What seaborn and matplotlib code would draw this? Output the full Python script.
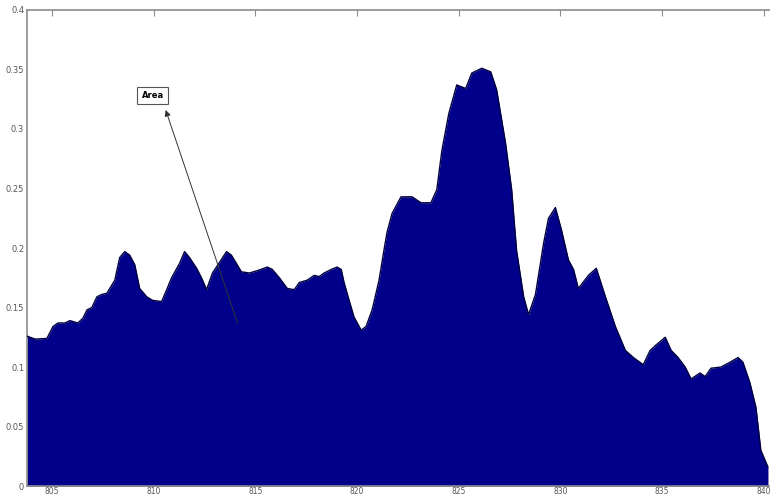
import matplotlib
matplotlib.use("Agg")
import matplotlib.pyplot as plt
import seaborn as sns
import pandas as pd

# Spectrum sampled along the wavelength axis
wavelength = [
    803.77, 804.17, 804.75, 805.05, 805.29, 805.64, 805.88, 806.27, 806.52, 806.72,
    806.96, 807.21, 807.45, 807.70, 807.84, 808.09, 808.33, 808.58, 808.82, 809.07,
    809.31, 809.66, 809.95, 810.39, 810.64, 810.88, 811.27, 811.52, 811.76, 812.11,
    812.35, 812.60, 812.89, 813.24, 813.58, 813.82, 814.07, 814.31, 814.71, 815.10,
    815.59, 815.83, 816.18, 816.57, 816.91, 817.16, 817.55, 817.89, 818.14, 818.38,
    818.73, 819.02, 819.22, 819.36, 819.61, 819.85, 820.20, 820.44, 820.74, 821.08,
    821.32, 821.47, 821.72, 822.16, 822.70, 823.14, 823.63, 823.92, 824.17, 824.51,
    824.90, 825.34, 825.64, 826.13, 826.57, 826.86, 827.30, 827.60, 827.84, 828.19,
    828.43, 828.77, 829.17, 829.41, 829.75, 830.05, 830.39, 830.64, 830.88, 831.37,
    831.76, 832.21, 832.70, 833.19, 833.58, 834.07, 834.41, 834.66, 835.15, 835.44,
    835.78, 836.13, 836.42, 836.86, 837.11, 837.40, 837.89, 838.33, 838.73, 838.97,
    839.31, 839.61, 839.85, 840.20,
]
intensity = [
    0.126, 0.1235, 0.124, 0.134, 0.137, 0.137, 0.139, 0.137, 0.141, 0.148,
    0.150, 0.159, 0.161, 0.162, 0.166, 0.173, 0.192, 0.197, 0.194, 0.186,
    0.166, 0.159, 0.156, 0.155, 0.165, 0.175, 0.187, 0.197, 0.192, 0.183,
    0.175, 0.165, 0.179, 0.188, 0.197, 0.194, 0.187, 0.180, 0.179, 0.181,
    0.184, 0.182, 0.175, 0.166, 0.165, 0.171, 0.173, 0.177, 0.176, 0.179,
    0.182, 0.184, 0.182, 0.171, 0.156, 0.142, 0.131, 0.134, 0.148, 0.173,
    0.198, 0.213, 0.229, 0.243, 0.243, 0.238, 0.238, 0.249, 0.282, 0.313,
    0.337, 0.334, 0.347, 0.351, 0.348, 0.333, 0.288, 0.249, 0.198, 0.159,
    0.144, 0.161, 0.204, 0.225, 0.234, 0.215, 0.190, 0.182, 0.166, 0.177,
    0.183, 0.159, 0.134, 0.114, 0.108, 0.102, 0.114, 0.118, 0.125, 0.114,
    0.108, 0.100, 0.090, 0.095, 0.092, 0.099, 0.100, 0.104, 0.108, 0.104,
    0.087, 0.066, 0.030, 0.016,
]

x_ticks = [805, 810, 815, 820, 825, 830, 835, 840]
y_ticks = [0, 0.05, 0.1, 0.15, 0.2, 0.25, 0.3, 0.35, 0.4]
y_labels = ["0", "0.05", "0.1", "0.15", "0.2", "0.25", "0.3", "0.35", "0.4"]

annotation_text = "Area"

df = pd.DataFrame({"wavelength": wavelength, "intensity": intensity})

sns.set_style("white")
plt.rcParams["font.family"] = ["DejaVu Sans"]

fig = plt.figure(figsize=(7.7, 4.97), dpi=100)
ax = fig.add_axes([0.035, 0.022, 0.965, 0.958])

fill_color = "#00008B"
ax.fill_between(df["wavelength"], df["intensity"], 0, color=fill_color, lw=0, zorder=2)
sns.lineplot(data=df, x="wavelength", y="intensity", ax=ax, color="#000040",
             lw=1.0, zorder=3)

ax.set_xlim(803.77, 840.3)
ax.set_ylim(0, 0.4)
ax.set_xticks(x_ticks)
ax.set_xticklabels([str(t) for t in x_ticks])
ax.set_yticks(y_ticks)
ax.set_yticklabels(y_labels)
ax.set_xlabel("")
ax.set_ylabel("")

spine_color = "#8c8c8c"
for side in ["left", "top", "bottom"]:
    ax.spines[side].set_color(spine_color)
    ax.spines[side].set_linewidth(1.2)
    ax.spines[side].set_visible(True)
ax.spines["right"].set_visible(False)

ax.tick_params(axis="both", direction="in", length=4.5, width=0.8, color=spine_color,
               labelsize=6, labelcolor="#555555", top=True, right=False, pad=2)
ax.tick_params(axis="x", pad=1, labelsize=5.5)

ax.annotate(annotation_text, xy=(810.59, 0.316), xytext=(809.4, 0.328),
            fontsize=6, fontweight="bold", color="black", ha="left", va="center",
            bbox=dict(boxstyle="square,pad=0.5", fc="white", ec="#555555", lw=0.8),
            zorder=5)
ax.annotate("", xy=(810.59, 0.316), xytext=(814.12, 0.137),
            arrowprops=dict(arrowstyle="-|>", color="#333333", lw=0.7,
                            mutation_scale=9, shrinkA=0, shrinkB=0),
            zorder=5)

fig.savefig("out.png", dpi=100)
